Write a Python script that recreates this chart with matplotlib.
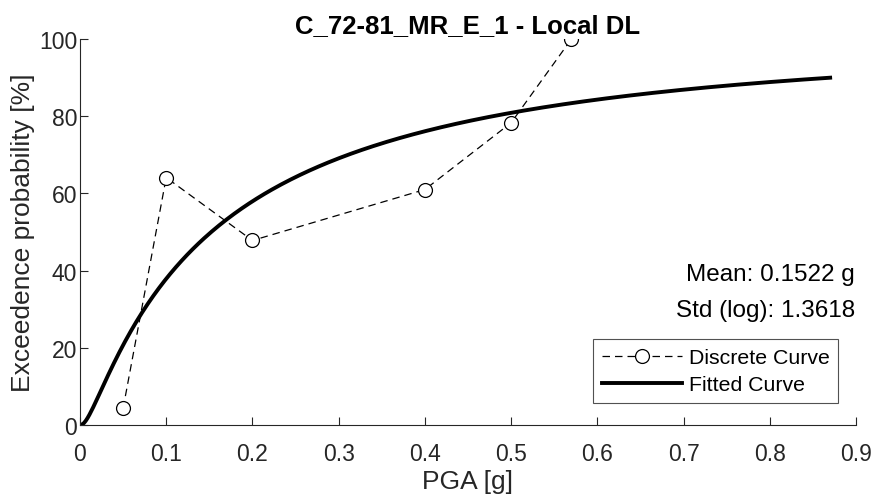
import numpy as np
import matplotlib
matplotlib.use("Agg")
import matplotlib.pyplot as plt
from math import erf, sqrt

plt.rcParams['font.family'] = ['Liberation Sans', 'DejaVu Sans']

# Discrete fragility points
pga_points = [0.05, 0.10, 0.20, 0.40, 0.50, 0.57]
prob_points = [4.3, 64.1, 47.8, 61.0, 78.3, 100.0]

# Lognormal fit parameters
median_pga = 0.1522
beta_log = 1.3618
pga_max_fit = 0.87

title_text = "C_72-81_MR_E_1 - Local DL"
x_ticks = [0, 0.1, 0.2, 0.3, 0.4, 0.5, 0.6, 0.7, 0.8, 0.9]
y_ticks = [0, 20, 40, 60, 80, 100]

x_fit = np.linspace(1e-4, pga_max_fit, 400)
z = np.log(x_fit / median_pga) / beta_log
y_fit = np.array([50.0 * (1 + erf(v / sqrt(2))) for v in z])
x_fit = np.concatenate([[0.0], x_fit])
y_fit = np.concatenate([[0.0], y_fit])

axcol = '#262626'
fig = plt.figure(figsize=(8.75, 5.02), dpi=100)
ax = fig.add_axes([0.0914, 0.1514, 0.8869, 0.7689])

ax.plot(pga_points, prob_points, linestyle=(0, (6, 4)), color='black', lw=0.9,
        marker='o', markersize=10, markerfacecolor='white', markeredgecolor='black',
        markeredgewidth=0.9, label='Discrete Curve', zorder=3)
ax.plot(x_fit, y_fit, color='black', lw=2.8, label='Fitted Curve', zorder=2)

ax.set_xlim(0, 0.9)
ax.set_ylim(0, 100)
ax.set_xticks(x_ticks)
ax.set_xticklabels([f"{t:g}" for t in x_ticks])
ax.set_yticks(y_ticks)
for s in ['top', 'right']:
    ax.spines[s].set_visible(False)
for s in ['left', 'bottom']:
    ax.spines[s].set_color(axcol)
    ax.spines[s].set_linewidth(0.8)
ax.tick_params(direction='in', length=6, width=0.8, colors=axcol, labelsize=16.5)
ax.tick_params(axis='x', pad=12)
ax.tick_params(axis='y', pad=2)
for lab in ax.get_xticklabels() + ax.get_yticklabels():
    lab.set_color(axcol)

ax.set_xlabel("PGA [g]", fontsize=19, color=axcol, labelpad=3)
ax.set_ylabel("Exceedence probability [%]", fontsize=19, color=axcol, labelpad=3)
ax.set_title(title_text, fontsize=18.5, fontweight='bold', pad=5)

ax.text(0.999, 0.391, "Mean: 0.1522 g", transform=ax.transAxes, ha='right', va='center',
        fontsize=17.5, color='black')
ax.text(0.999, 0.298, "Std (log): 1.3618", transform=ax.transAxes, ha='right', va='center',
        fontsize=17.5, color='black')

leg = ax.legend(loc='lower right', bbox_to_anchor=(0.977, 0.057), fontsize=15.3,
                frameon=True, fancybox=False, edgecolor=axcol, handlelength=3.8,
                borderpad=0.4, borderaxespad=0, labelspacing=0.4, handletextpad=0.3)
leg.get_frame().set_linewidth(0.8)

fig.savefig("out.png", dpi=100)
